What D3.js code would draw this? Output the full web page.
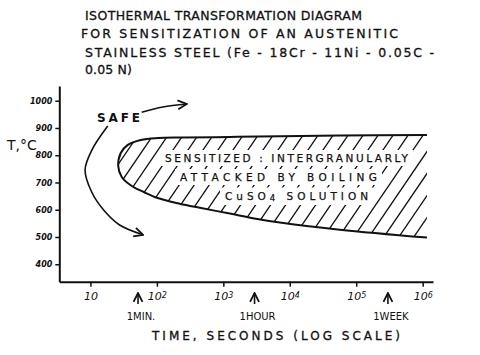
<!DOCTYPE html>
<html><head><meta charset="utf-8">
<script src="https://cdn.jsdelivr.net/npm/d3@7"></script>
<style>
html,body{margin:0;padding:0;background:#fff;}
svg{display:block;}
text{font-family:"DejaVu Sans",sans-serif;fill:#111;}
</style></head>
<body>
<svg id="c" width="480" height="355"></svg>
<script>
// ---- data ----
const titleLines = [
  "ISOTHERMAL TRANSFORMATION DIAGRAM",
  "FOR SENSITIZATION OF AN AUSTENITIC",
  "STAINLESS STEEL (Fe - 18Cr - 11Ni - 0.05C -",
  "0.05 N)"
];
const yTicks = [400, 500, 600, 700, 800, 900, 1000];
const xTicks = [10, 100, 1000, 10000, 100000, 1000000];
const xTickExp = ["", "2", "3", "4", "5", "6"];
// upper boundary (right -> nose), time in s, temperature °C
const upperTime = [1160000, 56750, 7100, 1250, 245, 103, 57.3, 36.5, 28.6, 26.2];
const upperTemp = [874, 872, 870, 867, 865, 863, 856, 838, 808, 760];
// lower boundary (nose -> right)
const lowerTime = [29.6, 41.9, 63.5, 103, 221, 443, 1250, 2780, 7100, 56750, 1160000];
const lowerTemp = [720, 687, 665, 643, 622, 607, 586, 569, 553, 527, 498];
const markerLabels = ["1MIN.", "1HOUR", "1WEEK"];
const markerTime = [52, 2950, 300000];
const regionLabel = [["SENSITIZED : INTERGRANULARLY"], ["ATTACKED BY BOILING"], ["CuSO", "4", " SOLUTION"]];
const safeArrowTopTime = [59, 123, 282];
const safeArrowTopTemp = [958, 977, 988];
const safeArrowLeftTime = [18.2, 10.5, 8.3, 10.4, 15.8, 27.5, 62];
const safeArrowLeftTemp = [907, 819, 746, 666, 599, 544, 508];

// ---- scales ----
const svg = d3.select("#c");
const ink = "#111";
const x = d3.scaleLog().domain([3.4, 1.43e6]).range([59.3, 433]);
const y = d3.scaleLinear().domain([336, 1054]).range([281.7, 86]);

// defs
const defs = svg.append("defs");
defs.append("marker").attr("id","ah").attr("viewBox","0 0 10 10").attr("refX",9).attr("refY",5)
  .attr("markerWidth",7).attr("markerHeight",7).attr("orient","auto")
  .append("path").attr("d","M1,1 L9,5 L1,9").attr("fill","none").attr("stroke",ink).attr("stroke-width",1.6);

// title
const titleBase = [20, 38, 57, 74];
const titleX = [85, 81, 85, 85];
const titleLen = [277, 317, 349, 47];
titleLines.forEach((t,i)=>{
  svg.append("text").attr("x",titleX[i]).attr("y",titleBase[i])
    .attr("font-size",12.5).attr("stroke",ink).attr("stroke-width",0.3)
    .attr("textLength",titleLen[i]).attr("lengthAdjust","spacing").text(t);
});

// region
const upper = upperTime.map((t,i)=>[x(t), y(upperTemp[i])]);
const lower = lowerTime.map((t,i)=>[x(t), y(lowerTemp[i])]);
const boundaryPts = upper.concat(lower);
const lineGen = d3.line().curve(d3.curveCatmullRom.alpha(0.5));
const boundaryD = lineGen(boundaryPts);
defs.append("clipPath").attr("id","reg").append("path").attr("d", boundaryD + "Z");

// hatching
const hatch = svg.append("g").attr("clip-path","url(#reg)");
d3.range(60, 470, 15).forEach(x0=>{
  hatch.append("line").attr("x1",x0).attr("y1",250).attr("x2",x0+85).attr("y2",125)
    .attr("stroke",ink).attr("stroke-width",1.3);
});

// region labels with white masks
const labX = [165, 180, 225];
const labB = [162, 181, 199.5];
const labLen = [243, 197, 143];
const labG = svg.append("g");
regionLabel.forEach((parts,i)=>{
  const tx = labG.append("text").attr("x",labX[i]).attr("y",labB[i]).attr("font-size",10.5)
    .attr("stroke",ink).attr("stroke-width",0.25)
    .attr("textLength",labLen[i]).attr("lengthAdjust","spacing");
  parts.forEach((p,j)=>{
    const ts = tx.append("tspan").text(p);
    if (p === "4") ts.attr("font-size",8.5).attr("dy","1.5");
    else if (j > 0) ts.attr("dy","-1.5");
  });
  const bb = tx.node().getBBox();
  labG.insert("rect","text").attr("x",bb.x-5).attr("y",bb.y-2).attr("width",bb.width+10).attr("height",bb.height+4).attr("fill","#fff");
});

svg.append("path").attr("d",boundaryD).attr("fill","none").attr("stroke",ink).attr("stroke-width",2);

// SAFE
svg.append("text").attr("x",97).attr("y",122).attr("font-size",12).attr("font-weight","bold")
  .attr("textLength",43).attr("lengthAdjust","spacing").text("SAFE");
const arrLine = d3.line().curve(d3.curveCatmullRom.alpha(0.5));
svg.append("path").attr("d",arrLine(safeArrowTopTime.map((t,i)=>[x(t),y(safeArrowTopTemp[i])])))
  .attr("fill","none").attr("stroke",ink).attr("stroke-width",1.6).attr("marker-end","url(#ah)");
svg.append("path").attr("d",arrLine(safeArrowLeftTime.map((t,i)=>[x(t),y(safeArrowLeftTemp[i])])))
  .attr("fill","none").attr("stroke",ink).attr("stroke-width",1.6).attr("marker-end","url(#ah)");

// axes
const yAxis = svg.append("g").attr("transform",`translate(${x.range()[0]},0)`)
  .call(d3.axisLeft(y).tickValues(yTicks).tickSize(4).tickSizeOuter(0).tickPadding(3).tickFormat(d3.format("d")));
yAxis.select(".domain").attr("stroke",ink).attr("stroke-width",2);
yAxis.selectAll(".tick line").attr("stroke",ink).attr("stroke-width",1.5);
yAxis.selectAll(".tick text").attr("font-size",8).attr("font-style","italic").attr("font-weight","bold").attr("font-family","DejaVu Sans").attr("fill",ink);

const xAxis = svg.append("g").attr("transform",`translate(0,${y.range()[0]})`)
  .call(d3.axisBottom(x).tickValues(xTicks).tickSize(5).tickSizeOuter(0).tickPadding(6).tickFormat(()=>""));
xAxis.select(".domain").attr("stroke",ink).attr("stroke-width",2);
xAxis.selectAll(".tick line").attr("stroke",ink).attr("stroke-width",1.5);
xAxis.selectAll(".tick text").each(function(d,i){
  const t = d3.select(this).attr("font-size",11).attr("font-style","italic").attr("font-family","DejaVu Sans").attr("fill",ink);
  t.append("tspan").text("10");
  if (xTickExp[i]) t.append("tspan").attr("font-size",8).attr("dy","-0.35em").text(xTickExp[i]);
});

// time markers
const mk = svg.append("g");
markerTime.forEach((t,i)=>{
  const mx = x(t);
  mk.append("line").attr("x1",mx).attr("x2",mx).attr("y1",304).attr("y2",293).attr("stroke",ink).attr("stroke-width",1.6).attr("marker-end","url(#ah)");
  mk.append("text").attr("x",mx+3).attr("y",320).attr("text-anchor","middle").attr("font-size",10).text(markerLabels[i]);
});

// axis titles
svg.append("text").attr("x",152).attr("y",340).attr("font-size",12).attr("stroke",ink).attr("stroke-width",0.3)
  .attr("textLength",248).attr("lengthAdjust","spacing").text("TIME, SECONDS (LOG SCALE)");
svg.append("text").attr("x",7).attr("y",150).attr("font-size",14).text("T,°C");
</script>
</body></html>
